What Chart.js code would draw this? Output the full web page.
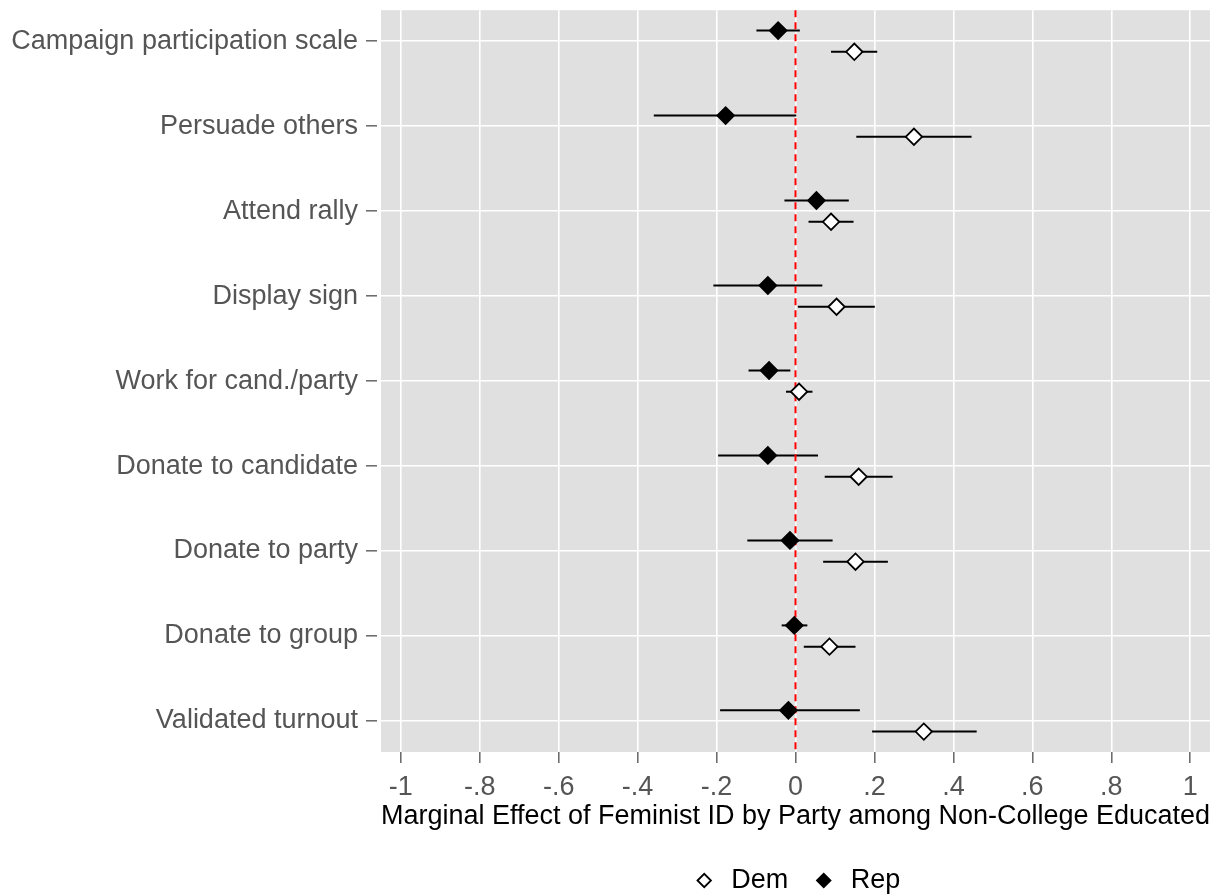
<!DOCTYPE html>
<html>
<head>
<meta charset="utf-8">
<script src="https://cdn.jsdelivr.net/npm/chart.js@4.4.1/dist/chart.umd.min.js"></script>
<style>
  html, body { margin: 0; padding: 0; background: #ffffff; }
  canvas { display: block; }
</style>
</head>
<body>
<canvas id="effectsChart" width="1228" height="896"></canvas>
<script>
// Participation items, top to bottom
const activities = ['Campaign participation scale', 'Persuade others', 'Attend rally', 'Display sign',
    'Work for cand./party', 'Donate to candidate', 'Donate to party', 'Donate to group', 'Validated turnout'];

// Democrats: marginal effect with lower / upper bounds
const demEffect = [0.149, 0.300, 0.090, 0.104, 0.009, 0.160, 0.152, 0.086, 0.325];
const demLower = [0.090, 0.154, 0.033, 0.006, -0.024, 0.074, 0.070, 0.021, 0.194];
const demUpper = [0.207, 0.446, 0.147, 0.201, 0.043, 0.246, 0.234, 0.152, 0.459];

// Republicans
const repEffect = [-0.044, -0.177, 0.053, -0.070, -0.067, -0.070, -0.014, -0.003, -0.018];
const repLower = [-0.099, -0.359, -0.028, -0.208, -0.119, -0.196, -0.122, -0.035, -0.191];
const repUpper = [0.011, 0.002, 0.135, 0.068, -0.013, 0.057, 0.094, 0.030, 0.163];

// X axis ticks
const xTicks = [-1, -0.8, -0.6, -0.4, -0.2, 0, 0.2, 0.4, 0.6, 0.8, 1];
const xTickLabels = ['-1', '-.8', '-.6', '-.4', '-.2', '0', '.2', '.4', '.6', '.8', '1'];

const DODGE = 0.125;
const FONT = { family: "'Liberation Sans', Arial, Helvetica, sans-serif", size: 27 };

function buildPoints(est, lo, hi, shift) {
    return est.map((v, i) => ({ x: v, y: i + 1 + shift, lo: lo[i], hi: hi[i] }));
}

// Grey panel behind the grid
const panelBackground = {
    id: 'panelBackground',
    beforeDraw(chart) {
        const { ctx, chartArea: a } = chart;
        ctx.save();
        ctx.fillStyle = '#e0e0e0';
        ctx.fillRect(a.left, a.top, a.right - a.left, a.bottom - a.top);
        ctx.restore();
    }
};

// Horizontal interval lines and the dashed zero line, under the markers
const errorBars = {
    id: 'errorBars',
    beforeDatasetsDraw(chart) {
        const { ctx, chartArea, scales: { x, y } } = chart;
        ctx.save();
        ctx.strokeStyle = '#000000';
        ctx.lineWidth = 2;
        chart.data.datasets.forEach(ds => {
            ds.data.forEach(p => {
                const py = y.getPixelForValue(p.y);
                ctx.beginPath();
                ctx.moveTo(x.getPixelForValue(p.lo), py);
                ctx.lineTo(x.getPixelForValue(p.hi), py);
                ctx.stroke();
            });
        });
        const x0 = x.getPixelForValue(0);
        ctx.strokeStyle = '#ff0000';
        ctx.lineWidth = 2;
        ctx.setLineDash([7, 5]);
        ctx.beginPath();
        ctx.moveTo(x0, chartArea.top);
        ctx.lineTo(x0, chartArea.bottom);
        ctx.stroke();
        ctx.restore();
    }
};

const ctx = document.getElementById('effectsChart').getContext('2d');
new Chart(ctx, {
    type: 'scatter',
    data: {
        datasets: [
            {
                label: 'Dem',
                data: buildPoints(demEffect, demLower, demUpper, DODGE),
                pointStyle: 'rectRot',
                pointRadius: 8.2,
                pointBackgroundColor: '#ffffff',
                pointBorderColor: '#000000',
                pointBorderWidth: 1.8
            },
            {
                label: 'Rep',
                data: buildPoints(repEffect, repLower, repUpper, -DODGE),
                pointStyle: 'rectRot',
                pointRadius: 8.4,
                pointBackgroundColor: '#000000',
                pointBorderColor: '#000000',
                pointBorderWidth: 1.8
            }
        ]
    },
    options: {
        responsive: false,
        animation: false,
        events: [],
        layout: { padding: { top: 10, right: 18, bottom: 0, left: 0 } },
        plugins: {
            tooltip: { enabled: false },
            legend: {
                position: 'bottom',
                fullSize: false,
                maxHeight: 51,
                labels: {
                    usePointStyle: true,
                    boxWidth: 27,
                    boxHeight: 9.5,
                    padding: 22,
                    color: '#000000',
                    font: FONT
                }
            }
        },
        scales: {
            x: {
                type: 'linear',
                min: -1.05,
                max: 1.05,
                afterBuildTicks: axis => { axis.ticks = xTicks.map(v => ({ value: v })); },
                afterFit: axis => { axis.height = 93; axis.paddingLeft = 0; axis.paddingRight = 0; },
                border: { display: false },
                grid: {
                    color: '#ffffff',
                    lineWidth: 1.6,
                    tickColor: '#666666',
                    tickWidth: 1.5,
                    tickLength: 15,
                    tickBorderDash: [11, 100]
                },
                ticks: {
                    padding: 4,
                    color: '#555555',
                    font: FONT,
                    maxRotation: 0,
                    autoSkip: false,
                    callback: (v, i) => xTickLabels[i]
                },
                title: {
                    display: true,
                    text: 'Marginal Effect of Feminist ID by Party among Non-College Educated',
                    color: '#000000',
                    font: FONT,
                    padding: { top: 0, bottom: 12 }
                }
            },
            y: {
                type: 'linear',
                reverse: true,
                min: 0.635,
                max: 9.365,
                afterBuildTicks: axis => { axis.ticks = activities.map((a, i) => ({ value: i + 1 })); },
                afterFit: axis => { axis.width = 381; axis.paddingTop = 0; axis.paddingBottom = 0; },
                border: { display: false },
                grid: {
                    color: '#ffffff',
                    lineWidth: 1.6,
                    tickColor: '#666666',
                    tickWidth: 1.5,
                    tickLength: 15,
                    tickBorderDash: [11, 100]
                },
                ticks: {
                    padding: 8,
                    color: '#555555',
                    font: FONT,
                    autoSkip: false,
                    callback: v => activities[Math.round(v) - 1]
                }
            }
        }
    },
    plugins: [panelBackground, errorBars]
});
</script>
</body>
</html>
